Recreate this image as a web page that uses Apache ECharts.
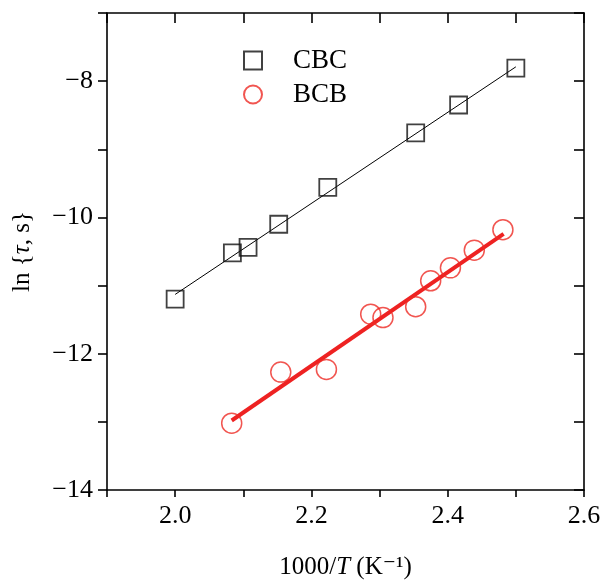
<!DOCTYPE html>
<html>
<head>
<meta charset="utf-8">
<script src="https://cdn.jsdelivr.net/npm/echarts@6/dist/echarts.min.js"></script>
<style>html,body{margin:0;padding:0;background:#fff}#c{width:607px;height:583px}</style>
</head>
<body>
<div id="c"></div>
<script>
const cbcX = [2.0, 2.084, 2.107, 2.152, 2.224, 2.353, 2.416, 2.500];
const cbcY = [-11.2, -10.52, -10.44, -10.10, -9.56, -8.76, -8.35, -7.81];
const bcbX = [2.083, 2.155, 2.222, 2.287, 2.305, 2.353, 2.375, 2.404, 2.439, 2.481];
const bcbY = [-13.02, -12.27, -12.23, -11.42, -11.47, -11.31, -10.93, -10.74, -10.48, -10.18];
const cbcFitX = [2.0, 2.5];
const cbcFitY = [-11.13, -7.79];
const bcbFitX = [2.083, 2.482];
const bcbFitY = [-12.98, -10.24];
const xTickLabels = ['2.0', '2.2', '2.4', '2.6'];
const yTickLabels = ['−14', '−12', '−10', '−8'];

const zip = (a, b) => a.map((v, i) => [v, b[i]]);
const FONT = '"Liberation Serif", "DejaVu Serif", serif';
const FS = 26;

function xLab(v) {
  const s = (Math.round(v * 10) / 10).toFixed(1);
  return xTickLabels.includes(s) ? s : '';
}
function yLab(v) {
  const r = Math.round(v);
  const s = r < 0 ? '−' + Math.abs(r) : String(r);
  return yTickLabels.includes(s) ? s : '';
}

const chart = echarts.init(document.getElementById('c'), null, {renderer: 'canvas'});
const axisLine = {show: true, onZero: false, lineStyle: {color: '#000', width: 1.6}};
const richName = {
  fontFamily: FONT, fontSize: 25, color: '#000',
  rich: {
    n: {fontFamily: FONT, fontSize: 25, color: '#000'},
    i: {fontFamily: FONT, fontSize: 25, fontStyle: 'italic', color: '#000'}
  }
};
chart.setOption({
  backgroundColor: '#fff',
  animation: false,
  grid: {left: 107, top: 13, width: 477, height: 477, containLabel: false, outerBoundsMode: 'none'},
  legend: {
    orient: 'vertical', left: 238, top: 42,
    itemWidth: 18, itemHeight: 18, itemGap: 7,
    data: ['CBC', 'BCB'],
    textStyle: {fontFamily: FONT, fontSize: 27, color: '#000', padding: [0, 0, 0, 26]}
  },
  xAxis: [{
    type: 'value', min: 1.9, max: 2.6, interval: 0.1, position: 'bottom',
    name: '{n|1000/}{i|T}{n| (K⁻¹)}', nameLocation: 'middle', nameGap: 65,
    nameTextStyle: richName,
    axisLine: axisLine,
    axisTick: {show: true, inside: false, length: 7, lineStyle: {color: '#000', width: 1.6}},
    axisLabel: {formatter: xLab, fontFamily: FONT, fontSize: FS, color: '#000', margin: 13},
    splitLine: {show: false}
  }, {
    type: 'value', min: 1.9, max: 2.6, interval: 0.1, position: 'top',
    axisLine: axisLine,
    axisTick: {show: true, inside: true, length: 10, lineStyle: {color: '#000', width: 1.6}},
    axisLabel: {show: false}, splitLine: {show: false}
  }],
  yAxis: [{
    type: 'value', min: -14, max: -7, interval: 1, position: 'left',
    name: '{n|ln {}{i|τ}{n|, s}}', nameLocation: 'middle', nameGap: 72, nameRotate: 90,
    nameTextStyle: richName,
    axisLine: axisLine,
    axisTick: {show: true, inside: false, length: 9, lineStyle: {color: '#000', width: 1.6}},
    axisLabel: {formatter: yLab, fontFamily: FONT, fontSize: FS, color: '#000', margin: 14},
    splitLine: {show: false}
  }, {
    type: 'value', min: -14, max: -7, interval: 1, position: 'right',
    axisLine: axisLine,
    axisTick: {show: true, inside: true, length: 10, lineStyle: {color: '#000', width: 1.6}},
    axisLabel: {show: false}, splitLine: {show: false}
  }],
  series: [{
    name: 'CBC fit', type: 'line', data: zip(cbcFitX, cbcFitY), showSymbol: false, symbol: 'none',
    lineStyle: {color: '#000', width: 1}, z: 2, silent: true
  }, {
    name: 'BCB fit', type: 'line', data: zip(bcbFitX, bcbFitY), showSymbol: false, symbol: 'none',
    lineStyle: {color: '#ee2222', width: 4}, z: 2, silent: true
  }, {
    name: 'CBC', type: 'scatter', data: zip(cbcX, cbcY), symbol: 'rect', symbolSize: 17,
    itemStyle: {color: 'rgba(255,255,255,0)', borderColor: '#111', borderWidth: 1.8}, z: 3
  }, {
    name: 'BCB', type: 'scatter', data: zip(bcbX, bcbY), symbol: 'circle', symbolSize: 20,
    itemStyle: {color: 'rgba(255,255,255,0)', borderColor: '#ee2a24', borderWidth: 1.5}, z: 3
  }]
});
</script>
</body>
</html>
